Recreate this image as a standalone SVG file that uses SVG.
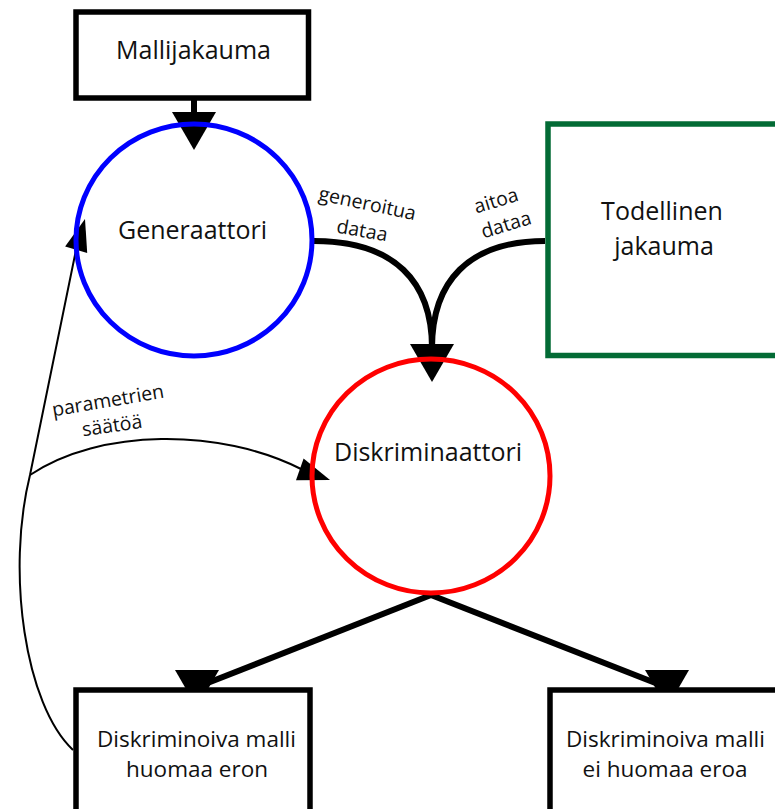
<svg xmlns="http://www.w3.org/2000/svg" width="775" height="809" viewBox="0 0 775 809">
  <style>
    .box { fill: #fff; stroke: #000; stroke-width: 5.5; }
    .lbl { font-family: "Open Sans", "Liberation Sans", sans-serif; fill: #111; text-anchor: middle; }
    .big { font-size: 25px; }
    .mid { font-size: 22.5px; }
    .small { font-size: 19.5px; }
    .thick { fill: none; stroke: #000; stroke-width: 6; }
    .thin { fill: none; stroke: #000; stroke-width: 2; }
  </style>
  <defs>
    <path id="headDown" d="M-22,-38 H22 L0,0 Z" fill="#000"/>
    <path id="headSmall" d="M0,0 L-32,-11.5 L-32,11.5 Z" fill="#000"/>
  </defs>
  <rect width="775" height="809" fill="#fff"/>

  <g id="connectors">
    <line class="thick" x1="194" y1="100" x2="194" y2="116"/>
    <use href="#headDown" transform="translate(194,150)"/>
    <path class="thick" d="M314,241 C395,241 432,282 432,348"/>
    <path class="thick" d="M545,241 C468,241 432,282 432,348"/>
    <use href="#headDown" transform="translate(432,382)"/>
    <line class="thick" x1="431" y1="595" x2="205" y2="684"/>
    <use href="#headDown" transform="translate(197,708)"/>
    <line class="thick" x1="431" y1="595" x2="658" y2="684"/>
    <use href="#headDown" transform="translate(667,708)"/>
    <path class="thin" d="M73,750 C25,705 6,572 30,475 L76,250"/>
    <use href="#headSmall" transform="translate(85,219) rotate(-74)"/>
    <path class="thin" d="M30,475 C100,428 220,428 301,469"/>
    <use href="#headSmall" transform="translate(330,480) rotate(19.3)"/>
    <text class="lbl small" transform="translate(366,210) rotate(12)">generoitua</text>
    <text class="lbl small" transform="translate(361,237) rotate(10)">dataa</text>
    <text class="lbl small" transform="translate(498,207) rotate(-17)">aitoa</text>
    <text class="lbl small" transform="translate(508,231) rotate(-17)">dataa</text>
    <text class="lbl small" transform="translate(109,407) rotate(-9.6)">parametrien</text>
    <text class="lbl small" transform="translate(113,432) rotate(-8)">säätöä</text>
  </g>

  <g id="mallijakauma">
    <rect class="box" x="76" y="12" width="232.5" height="86"/>
    <text class="lbl big" x="193.5" y="59">Mallijakauma</text>
  </g>

  <g id="generaattori">
    <ellipse cx="194" cy="240" rx="118" ry="116" fill="none" stroke="#0000ff" stroke-width="5"/>
    <text class="lbl big" x="192.5" y="239">Generaattori</text>
  </g>

  <g id="todellinen">
    <rect x="548" y="124" width="240" height="231.5" fill="#fff" stroke="#036b35" stroke-width="5.5"/>
    <text class="lbl big" x="662" y="220">Todellinen</text>
    <text class="lbl big" x="664" y="255">jakauma</text>
  </g>

  <g id="diskriminaattori">
    <ellipse cx="431" cy="476" rx="119" ry="117" fill="none" stroke="#ff0000" stroke-width="5"/>
    <text class="lbl big" x="428" y="461">Diskriminaattori</text>
  </g>

  <g id="huomaa">
    <rect class="box" x="76" y="690" width="234" height="140"/>
    <text class="lbl mid" x="196.5" y="747">Diskriminoiva malli</text>
    <text class="lbl mid" x="197" y="777">huomaa eron</text>
  </g>

  <g id="ei-huomaa">
    <rect class="box" x="550" y="690" width="240" height="140"/>
    <text class="lbl mid" x="665.5" y="747">Diskriminoiva malli</text>
    <text class="lbl mid" x="665" y="777">ei huomaa eroa</text>
  </g>
</svg>
